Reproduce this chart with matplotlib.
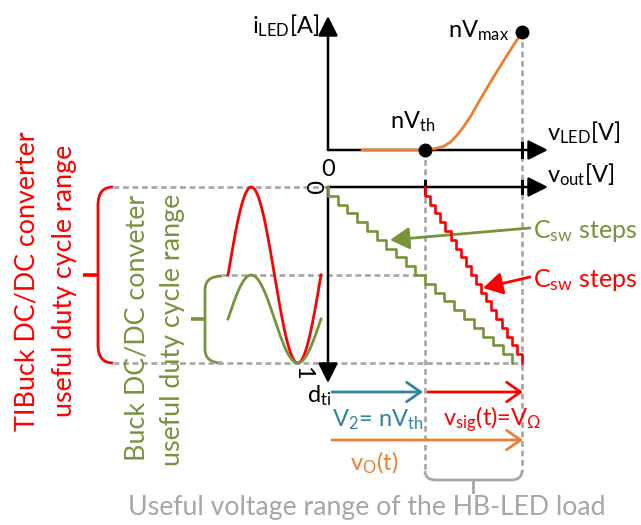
import matplotlib
matplotlib.use("Agg")
import matplotlib.pyplot as plt
import matplotlib.transforms as mtransforms
from matplotlib.path import Path
from matplotlib.patches import PathPatch
import numpy as np

plt.rcParams['font.family'] = ['Lato', 'DejaVu Sans']
plt.rcParams['mathtext.fontset'] = 'custom'
plt.rcParams['mathtext.rm'] = 'Lato'
plt.rcParams['mathtext.it'] = 'Lato:italic'
plt.rcParams['mathtext.bf'] = 'Lato:bold'

# ---------------- data ----------------
v_th = 1.0          # nVth (normalised voltage)
v_max = 2.0         # nVmax
i_max = 1.0
led_v = [0.35, 1.00, 1.05, 1.10, 1.19, 1.26, 1.33, 1.40, 1.47, 1.57, 1.70, 1.84, 2.00]
led_i = [0.00, 0.00, 0.003, 0.012, 0.03, 0.065, 0.125, 0.20, 0.285, 0.43, 0.61, 0.795, 1.00]

duty_levels = [0.00, 0.05, 0.10, 0.15, 0.20, 0.25, 0.30, 0.35, 0.40, 0.45, 0.50,
               0.55, 0.60, 0.65, 0.70, 0.75, 0.80, 0.85, 0.90, 0.95, 1.00]
green_v = [0.0, 0.1, 0.2, 0.3, 0.4, 0.5, 0.6, 0.7, 0.8, 0.9,
           1.0, 1.1, 1.2, 1.3, 1.4, 1.5, 1.6, 1.7, 1.8, 1.9]
red_v = [1.000, 1.053, 1.105, 1.158, 1.211, 1.263, 1.316, 1.368, 1.421, 1.474,
         1.526, 1.579, 1.632, 1.684, 1.737, 1.789, 1.842, 1.895, 1.947, 2.000]

red_sig_offset, red_sig_amp = 0.5, 0.5       # TIBuck duty range 0..1
green_sig_offset, green_sig_amp = 0.75, 0.25 # Buck duty range 0.5..1

# ---------------- style ----------------
RED = '#FF0000'
GREEN = '#77933C'
ORANGE = '#ED7D31'
TEAL = '#31859C'
GRAY = '#A6A6A6'
DASH = (0, (2.2, 1.4))

W, H = 641, 525
X0, SX = 328, 97       # pixel of v=0, pixels per v unit
Y0I, SYI = 150, 118    # pixel of i=0, pixels per i unit
Y0D, SYD = 187, 176    # pixel of d=0, pixels per d unit
T0, ST = 228, 93       # sine time axis

fig = plt.figure(figsize=(W / 100, H / 100), dpi=100)


def full_axes(xlim, ylim):
    a = fig.add_axes([0, 0, 1, 1])
    a.set_xlim(*xlim)
    a.set_ylim(*ylim)
    a.axis('off')
    a.patch.set_alpha(0)
    return a


ax = full_axes((0, W), (H, 0))
ax_top = full_axes(((0 - X0) / SX, (W - X0) / SX), ((Y0I - H) / SYI, Y0I / SYI))
ax_low = full_axes(((0 - X0) / SX, (W - X0) / SX), ((H - Y0D) / SYD, (0 - Y0D) / SYD))
ax_sig = full_axes(((0 - T0) / ST, (W - T0) / ST), ((H - Y0D) / SYD, (0 - Y0D) / SYD))

tr_v_px = mtransforms.blended_transform_factory(ax_low.transData, ax.transData)
tr_px_d = mtransforms.blended_transform_factory(ax.transData, ax_low.transData)

# ---- dashed guide lines ----
dkw = dict(color=GRAY, lw=1.9, linestyle=DASH, dash_capstyle='butt')
ax.plot([v_th, v_th], [150, 471], transform=tr_v_px, **dkw)
ax.plot([v_max, v_max], [32, 471], transform=tr_v_px, **dkw)
ax.plot([113, 328], [duty_levels[0]] * 2, transform=tr_px_d, **dkw)
ax.plot([222, 420], [0.5, 0.5], transform=tr_px_d, **dkw)
ax.plot([113, 522], [duty_levels[-1]] * 2, transform=tr_px_d, **dkw)


def bracket(verts, color, lw=2.0):
    codes = [Path.MOVETO, Path.CURVE3, Path.CURVE3, Path.LINETO, Path.CURVE3, Path.CURVE3]
    ax.add_patch(PathPatch(Path(verts, codes), fill=False, edgecolor=color, lw=lw,
                           capstyle='butt'))


bracket([(113, 187), (98, 187), (98, 205), (98, 345), (98, 363), (113, 363)], RED)
ax.plot([83, 98], [275, 275], color=RED, lw=2.6, solid_capstyle='butt')
bracket([(222, 276), (205, 276), (205, 290), (205, 349), (205, 363), (222, 363)], GREEN)
ax.plot([191, 205], [319, 319], color=GREEN, lw=2.6, solid_capstyle='butt')
bracket([(425, 471), (425, 480), (436, 480), (511, 480), (522, 480), (522, 471)], GRAY)
ax.plot([473, 473], [480, 492], color=GRAY, lw=2.0)

# ---- axes with arrows ----
akw = dict(arrowstyle='-|>,head_length=0.4,head_width=0.2', mutation_scale=30,
           lw=1.8, color='k', shrinkA=0, shrinkB=0)
ax_top.annotate('', xy=((548 - X0) / SX, 0), xytext=(0, 0), arrowprops=akw)
ax_top.annotate('', xy=(0, (Y0I - 16) / SYI), xytext=(0, 0), arrowprops=akw)
ax_low.annotate('', xy=((548 - X0) / SX, 0), xytext=(0, 0), arrowprops=akw)
ax_low.annotate('', xy=(0, (383 - Y0D) / SYD), xytext=(0, 0), arrowprops=akw)

ax_top.plot([v_max, v_max], [-0.06, 0.06], color='k', lw=2.2)
ax_low.plot([v_th, v_th], [-0.035, 0.035], color='k', lw=2.2)
ax_low.plot([v_max, v_max], [-0.035, 0.035], color='k', lw=2.2)

# ---- LED characteristic ----
ax_top.plot(led_v, led_i, color=ORANGE, lw=2.0, zorder=4, solid_capstyle='round',
            solid_joinstyle='round')
ax_top.plot([v_th, v_max], [0, i_max], 'o', color='k', ms=9, zorder=5)


# ---- staircases ----
def stair(v, d):
    xs = np.repeat(np.asarray(v), 2)
    ys = np.repeat(np.asarray(d), 2)[1:-1]
    return xs, ys


gx, gy = stair(green_v, duty_levels)
ax_low.plot(gx, gy, color=GREEN, lw=1.9, zorder=4)
rx, ry = stair(red_v, duty_levels)
ax_low.plot(rx, ry, color=RED, lw=1.9, zorder=4)

# ---- sine signals ----
t = np.linspace(0, 1, 300)
ax_sig.plot(t, red_sig_offset - red_sig_amp * np.sin(2 * np.pi * t), color=RED, lw=2.0)
ax_sig.plot(t, green_sig_offset - green_sig_amp * np.sin(2 * np.pi * t), color=GREEN, lw=2.0)

# ---- pointer arrows ----
pkw = dict(arrowstyle='-|>,head_length=0.42,head_width=0.24', mutation_scale=28,
           lw=2.0, shrinkA=0, shrinkB=0)
ax.annotate('', xy=(390, 240), xytext=(530, 228), arrowprops=dict(color=GREEN, **pkw))
ax.annotate('', xy=(483, 288), xytext=(530, 277), arrowprops=dict(color=RED, **pkw))

okw = dict(arrowstyle='->,head_length=0.5,head_width=0.35', mutation_scale=20,
           lw=2.0, shrinkA=0, shrinkB=0)
ax.annotate('', xy=(0.979, 392), xytext=(0.041, 392), xycoords=tr_v_px, textcoords=tr_v_px,
            arrowprops=dict(color=TEAL, **okw))
ax.annotate('', xy=(2.01, 392), xytext=(1.031, 392), xycoords=tr_v_px, textcoords=tr_v_px,
            arrowprops=dict(color=RED, **okw))
ax.annotate('', xy=(2.01, 440), xytext=(0.041, 440), xycoords=tr_v_px, textcoords=tr_v_px,
            arrowprops=dict(color=ORANGE, **okw))

# ---- texts ----
FS = 17
tk = dict(ha='left', va='baseline', fontsize=FS)
ax.text(252, 33, r'i$_{\mathrm{LED}}$[A]', color='k', **tk)
ax.text(547, 140, r'v$_{\mathrm{LED}}$[V]', color='k', **tk)
ax.text(547, 182, r'v$_{\mathrm{out}}$[V]', color='k', **tk)
ax.text(390, 128, r'nV$_{\mathrm{th}}$', color='k', **tk)
ax.text(448, 37, r'nV$_{\mathrm{max}}$', color='k', **tk)
ax.text(307, 402, r'd$_{\mathrm{ti}}$', color='k', **tk)
ax.text(328, 169, '0', ha='center', va='center', fontsize=FS, color='k')
ax.text(312, 187, '0', ha='center', va='center', fontsize=17, color='k', rotation=-90,
        rotation_mode='anchor')
ax.text(303, 373, '1', ha='center', va='center', fontsize=17, color='k', rotation=-90,
        rotation_mode='anchor')

ax.text(533, 238, r'C$_{\mathrm{sw}}$ steps', color=GREEN, ha='left', va='baseline', fontsize=18)
ax.text(533, 287, r'C$_{\mathrm{sw}}$ steps', color=RED, ha='left', va='baseline', fontsize=18)

ax.text(332, 426, r'V$_{\mathrm{2}}$= nV$_{\mathrm{th}}$', color=TEAL, **tk)
ax.text(443, 425, r'v$_{\mathrm{sig}}$(t)=V$_{\Omega}$', color=RED, **tk)
ax.text(350, 470, r'v$_{\mathrm{O}}$(t)', color=ORANGE, **tk)

ax.text(367, 515, 'Useful voltage range of the HB-LED load', color=GRAY,
        ha='center', va='baseline', fontsize=19.2)

rk = dict(rotation=90, rotation_mode='anchor', ha='center', va='baseline', fontsize=19.4)
ax.text(35, 281, 'TIBuck DC/DC converter', color=RED, **rk)
ax.text(72, 281, 'useful duty cycle range', color=RED, **rk)
ax.text(145, 328, 'Buck DC/DC conveter', color=GREEN, **rk)
ax.text(180, 330, 'useful duty cycle range', color=GREEN, **rk)

fig.savefig('out.png', dpi=100)
